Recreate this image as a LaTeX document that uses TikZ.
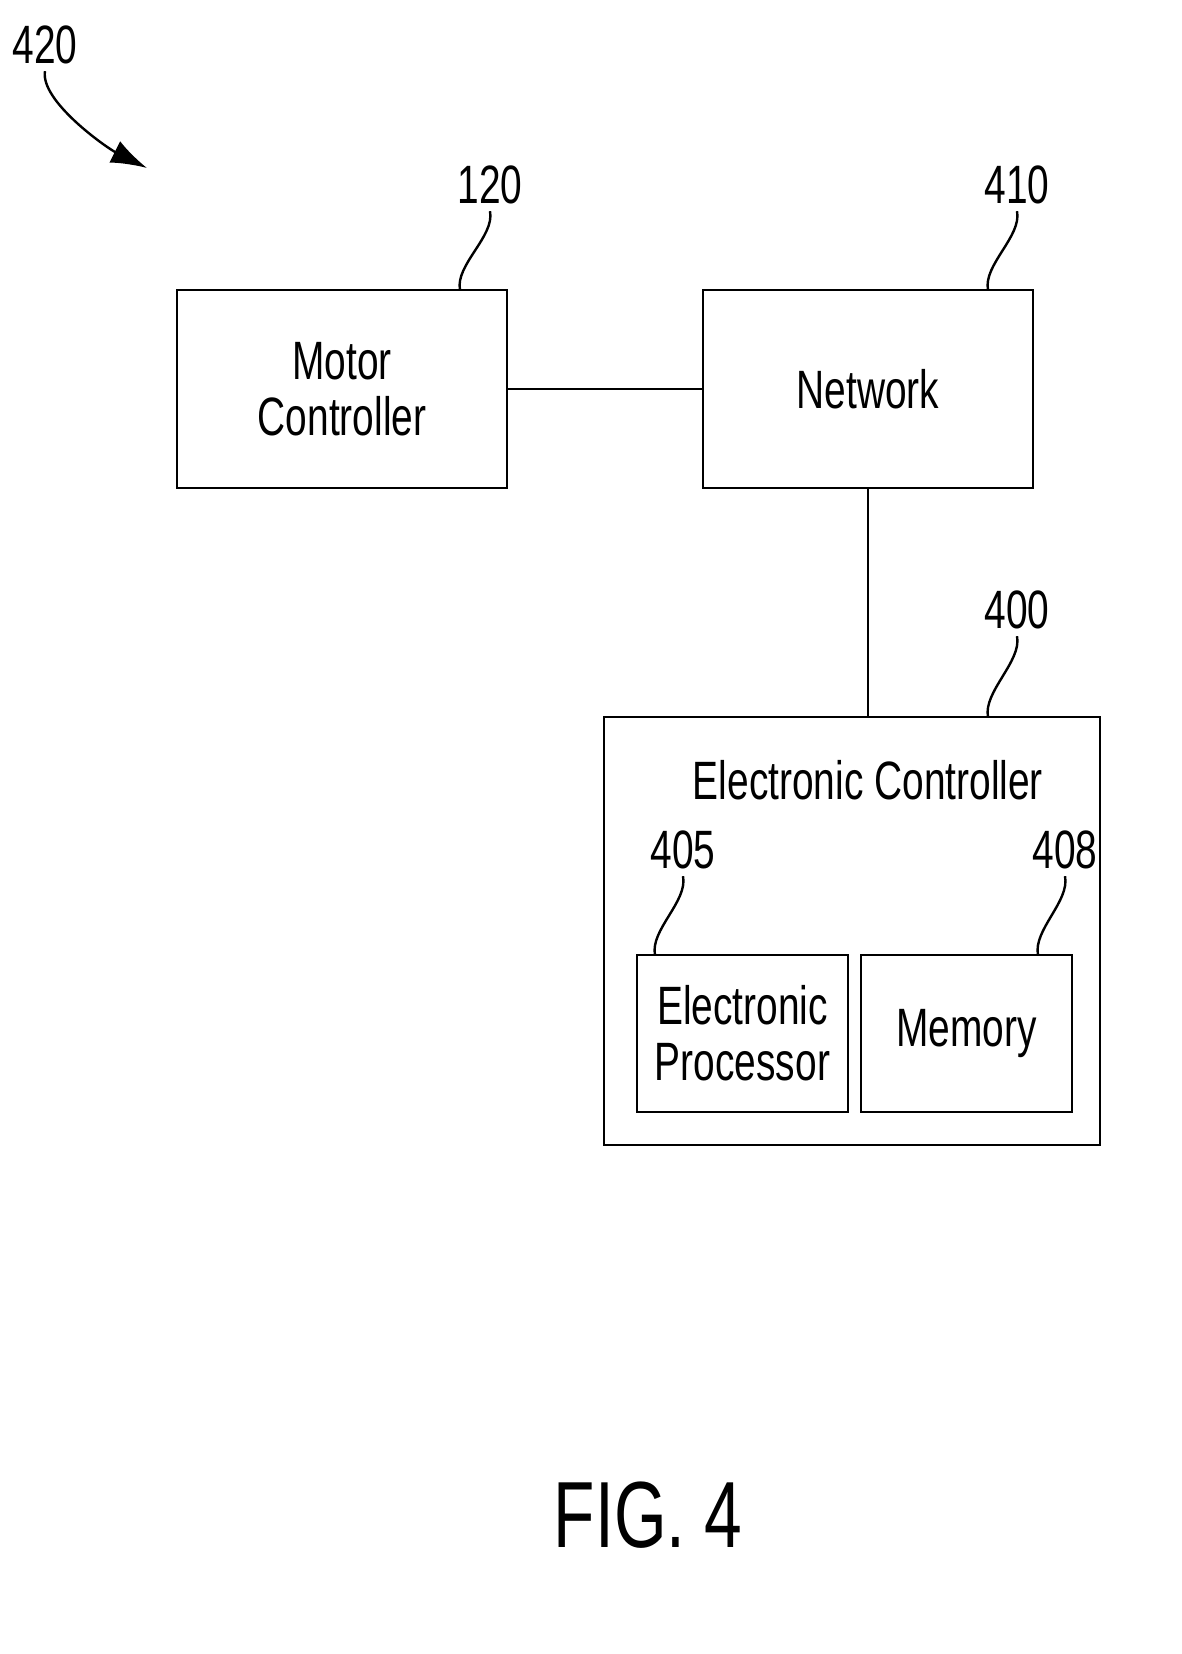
\documentclass[tikz,border=0pt]{standalone}
\usepackage{fontspec}
\setmainfont{Liberation Sans}[FakeStretch=0.72]
\usetikzlibrary{arrows.meta}
\tikzset{
  box/.style={draw, line width=1.2pt, inner sep=0pt},
  lbl/.style={font=\fontsize{27}{32}\selectfont, align=center},
  tag/.style={font=\fontsize{27}{32}\selectfont},
  lead/.style={line width=1.2pt},
  link/.style={line width=1.2pt}
}
\begin{document}
\begin{tikzpicture}[x=0.5pt, y=-0.5pt]
\useasboundingbox (0,0) rectangle (1182,1654);
% boxes
\node[box, minimum width=165pt, minimum height=99pt] (motor) at (342,389) {};
\node[lbl] at (motor) {Motor\\[-4pt]Controller};
\node[box, minimum width=165pt, minimum height=99pt] (net) at (868,389) {};
\node[lbl] at (net) {Network};
\node[box, minimum width=248pt, minimum height=214pt] (ecu) at (852,931) {};
\node[lbl] (ectitle) at (868,780) {Electronic Controller};
\node[box, minimum width=105.5pt, minimum height=78.5pt] (proc) at (742.5,1033.5) {};
\node[lbl] at (proc) {Electronic\\[-4pt]Processor};
\node[box, minimum width=105.5pt, minimum height=78.5pt] (mem) at (966.5,1033.5) {};
\node[lbl] at (mem) {Memory};
% connectors
\draw[link] (motor.east) -- (net.west);
\draw[link] (net.south) -- (ecu.north -| net.south);
% reference numerals
\node[tag] (n120) at (490,185) {120};
\node[tag] (n410) at (1017,185) {410};
\node[tag] (n400) at (1017,610) {400};
\node[tag] (n405) at (683,850) {405};
\node[tag] (n408) at (1065,850) {408};
\node[tag] (n420) at (45,45) {420};
\coordinate (c120) at (460,290);
\coordinate (c410) at (988,290);
\coordinate (c400) at (988,717);
\coordinate (c405) at (655,955);
\coordinate (c408) at (1038,955);
\draw[lead] (n120.south) .. controls +(5,25) and +(-5,-25) .. (c120);
\draw[lead] (n410.south) .. controls +(5,25) and +(-5,-25) .. (c410);
\draw[lead] (n400.south) .. controls +(5,25) and +(-5,-25) .. (c400);
\draw[lead] (n405.south) .. controls +(5,25) and +(-5,-25) .. (c405);
\draw[lead] (n408.south) .. controls +(5,25) and +(-5,-25) .. (c408);
\coordinate (a420) at (147,168);
\draw[lead, -{Latex[length=18pt, width=12pt]}] (n420.south) .. controls +(-5,30) and +(-40,-20) .. (a420);
\node[font=\fontsize{47}{52}\selectfont] (fig) at (648,1515) {FIG. 4};
\end{tikzpicture}
\end{document}
